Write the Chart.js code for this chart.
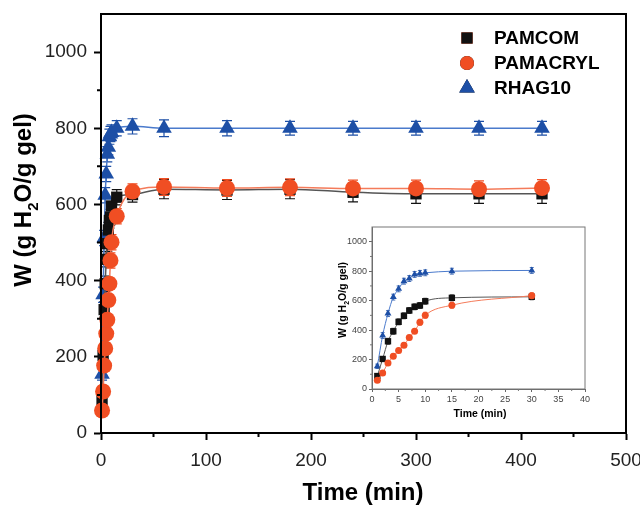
<!DOCTYPE html>
<html>
<head>
<meta charset="utf-8">
<script src="https://cdn.jsdelivr.net/npm/chart.js@4.4.1/dist/chart.umd.min.js"></script>
<style>
  html, body { margin: 0; padding: 0; background: #fff; }
  #wrap { position: relative; width: 640px; height: 506px; }
  #mainChart { position: absolute; left: 0; top: 0; }
  #insetChart { position: absolute; left: 300px; top: 210px; }
</style>
</head>
<body>
<div id="wrap">
  <canvas id="mainChart" width="640" height="506"></canvas>
  <canvas id="insetChart" width="320" height="220"></canvas>
</div>
<script>
// swelling time (min)
const times = [1, 2, 3, 4, 5, 6, 7, 8, 9, 10, 15, 30, 60, 120, 180, 240, 300, 360, 420];
const insetCount = 12; // inset shows the first 30 min

const seriesNames = ["PAMCOM", "PAMACRYL", "RHAG10"];
const pamcomW   = [88, 204, 324, 392, 456, 497, 533, 558, 567, 596, 619, 626, 640, 638, 640, 632, 628, 628, 628];
const pamacrylW = [59, 109, 177, 222, 261, 297, 349, 392, 453, 501, 569, 634, 646, 643, 645, 642, 642, 640, 643];
const rhagW     = [154, 363, 512, 624, 680, 732, 750, 778, 785, 789, 800, 805, 800, 800, 800, 800, 800, 800, 800];
const pamcomErr   = [10, 15, 20, 20, 20, 20, 20, 20, 20, 20, 20, 20, 25, 25, 25, 25, 25, 25, 25];
const pamacrylErr = [10, 15, 15, 15, 15, 15, 15, 15, 20, 20, 20, 20, 22, 22, 22, 22, 22, 22, 22];
const rhagErr     = [15, 20, 20, 20, 20, 20, 20, 20, 20, 20, 20, 20, 22, 20, 18, 18, 18, 18, 18];

const yTicks = [0, 200, 400, 600, 800, 1000];
const mainXTicks = [0, 100, 200, 300, 400, 500];
const insetXTicks = [0, 5, 10, 15, 20, 25, 30, 35, 40];

const FONT = "'Liberation Sans', Arial, Helvetica, sans-serif";
const styles = [
  { marker: "#111111", line: "#555555", shape: "rect", big: 8, small: 4.5 },
  { marker: "#f04e23", line: "#f47b5a", shape: "circle", big: 8, small: 3.5 },
  { marker: "#1d4fa6", line: "#4a7acc", shape: "triangle", big: 9, small: 4 }
];
const values = [pamcomW, pamacrylW, rhagW];
const errs = [pamcomErr, pamacrylErr, rhagErr];

function makeSets(n, isBig) {
  return seriesNames.map((name, i) => ({
    label: name,
    data: times.slice(0, n).map((t, j) => ({ x: t, y: values[i][j] })),
    errors: errs[i].slice(0, n),
    errColor: styles[i].marker,
    showLine: true,
    cubicInterpolationMode: "monotone",
    borderColor: styles[i].line,
    borderWidth: isBig ? 1.5 : 1,
    backgroundColor: styles[i].marker,
    pointBackgroundColor: styles[i].marker,
    pointBorderColor: styles[i].marker,
    pointBorderWidth: 0,
    pointStyle: styles[i].shape,
    pointRadius: isBig ? styles[i].big : styles[i].small,
    clip: false,
    order: [1, 0, 2][i]
  }));
}

// vertical error bars with caps, under the markers
const errorBars = {
  id: "errorBars",
  beforeDatasetsDraw(chart, args, opts) {
    const ctx = chart.ctx;
    const ys = chart.scales.y;
    chart.data.datasets.forEach((ds, i) => {
      const meta = chart.getDatasetMeta(i);
      ctx.save();
      ctx.strokeStyle = ds.errColor;
      ctx.lineWidth = opts.width;
      meta.data.forEach((pt, j) => {
        const v = ds.data[j].y, e = ds.errors[j];
        const y1 = ys.getPixelForValue(v - e);
        const y2 = ys.getPixelForValue(v + e);
        ctx.beginPath();
        ctx.moveTo(pt.x, y1); ctx.lineTo(pt.x, y2);
        ctx.moveTo(pt.x - opts.cap, y1); ctx.lineTo(pt.x + opts.cap, y1);
        ctx.moveTo(pt.x - opts.cap, y2); ctx.lineTo(pt.x + opts.cap, y2);
        ctx.stroke();
      });
      ctx.restore();
    });
  }
};

// box around plot + minor ticks
const frame = {
  id: "frame",
  afterDraw(chart, args, opts) {
    const ctx = chart.ctx, a = chart.chartArea;
    const xs = chart.scales.x, ys = chart.scales.y;
    ctx.save();
    ctx.strokeStyle = opts.color;
    ctx.lineWidth = opts.width;
    ctx.strokeRect(a.left, a.top, a.right - a.left, a.bottom - a.top);
    ctx.lineWidth = opts.tickWidth;
    ctx.beginPath();
    opts.xMinor.forEach(v => {
      const x = xs.getPixelForValue(v);
      ctx.moveTo(x, a.bottom); ctx.lineTo(x, a.bottom + opts.minorLen);
    });
    opts.yMinor.forEach(v => {
      const y = ys.getPixelForValue(v);
      ctx.moveTo(a.left, y); ctx.lineTo(a.left - opts.minorLen, y);
    });
    ctx.stroke();
    ctx.restore();
  }
};

// axis titles with a real subscript 2
function drawParts(ctx, parts, size, subSize) {
  let w = 0;
  parts.forEach(p => {
    ctx.font = "bold " + (p[1] ? subSize : size) + "px " + FONT;
    w += ctx.measureText(p[0]).width;
  });
  let x = -w / 2;
  parts.forEach(p => {
    ctx.font = "bold " + (p[1] ? subSize : size) + "px " + FONT;
    ctx.fillText(p[0], x, p[1] ? size * 0.28 : 0);
    x += ctx.measureText(p[0]).width;
  });
}
const axisTitles = {
  id: "axisTitles",
  afterDraw(chart, args, opts) {
    const ctx = chart.ctx;
    ctx.save();
    ctx.fillStyle = "#000";
    ctx.textBaseline = "alphabetic";
    ctx.textAlign = "left";
    ctx.translate(opts.xPos[0], opts.xPos[1]);
    drawParts(ctx, [["Time (min)", 0]], opts.size, opts.subSize);
    ctx.restore();
    ctx.save();
    ctx.fillStyle = "#000";
    ctx.textBaseline = "alphabetic";
    ctx.textAlign = "left";
    ctx.translate(opts.yPos[0], opts.yPos[1]);
    ctx.rotate(-Math.PI / 2);
    drawParts(ctx, [["W (g H", 0], ["2", 1], ["O/g gel)", 0]], opts.size, opts.subSize);
    ctx.restore();
  }
};

const markLegend = {
  id: "markLegend",
  afterDraw(chart, args, opts) {
    const ctx = chart.ctx;
    ctx.save();
    chart.data.datasets.forEach((ds, i) => {
      const y = opts.top + i * opts.gap;
      Chart.helpers.drawPoint(ctx, {
        pointStyle: ds.pointStyle, radius: opts.radius[i], rotation: 0, borderWidth: 0
      }, opts.markX, y);
      ctx.fillStyle = ds.pointBackgroundColor;
      ctx.fill();
      ctx.fillStyle = "#000";
      ctx.font = "bold " + opts.size + "px " + FONT;
      ctx.textBaseline = "middle";
      ctx.textAlign = "left";
      ctx.fillText(ds.label, opts.textX, y + 1);
    });
    ctx.restore();
  }
};

function scaleOpts(cfg) {
  return {
    type: "linear",
    min: cfg.min,
    max: cfg.max,
    afterBuildTicks: s => { s.ticks = cfg.ticks.map(v => ({ value: v })); },
    afterFit: s => {
      if (cfg.w) s.width = cfg.w;
      if (cfg.h) s.height = cfg.h;
      // keep the plot box where the layout padding puts it
      s.paddingLeft = 0; s.paddingRight = 0; s.paddingTop = 0; s.paddingBottom = 0;
    },
    grid: {
      display: true, drawOnChartArea: false, drawTicks: true,
      tickLength: cfg.tickLen, tickColor: cfg.axisColor, tickWidth: cfg.tickWidth
    },
    border: { display: true, color: cfg.axisColor, width: cfg.axisWidth },
    ticks: {
      color: cfg.labelColor, padding: cfg.pad, maxRotation: 0,
      font: { family: FONT, size: cfg.fontSize },
      callback: v => String(v)
    }
  };
}

new Chart(document.getElementById("mainChart"), {
  type: "scatter",
  data: { datasets: makeSets(times.length, true) },
  plugins: [errorBars, frame, axisTitles, markLegend],
  options: {
    responsive: false,
    animation: false,
    layout: { padding: { left: 0, top: 14, right: 14, bottom: 0 } },
    scales: {
      x: scaleOpts({ min: 0, max: 500, ticks: mainXTicks, h: 73, tickLen: 7, tickWidth: 2,
        axisColor: "#000", axisWidth: 2, labelColor: "#222", pad: 9, fontSize: 19 }),
      y: scaleOpts({ min: 0, max: 1100, ticks: yTicks, w: 101, tickLen: 7, tickWidth: 2,
        axisColor: "#000", axisWidth: 2, labelColor: "#222", pad: 7, fontSize: 19 })
    },
    plugins: {
      legend: { display: false },
      tooltip: { enabled: false },
      errorBars: { cap: 5, width: 1.2 },
      frame: { color: "#000", width: 2, tickWidth: 2, minorLen: 4,
        xMinor: [50, 150, 250, 350, 450], yMinor: [100, 300, 500, 700, 900] },
      axisTitles: { size: 24, subSize: 15, xPos: [363, 500], yPos: [31, 200] },
      markLegend: { top: 38, gap: 25, markX: 467, textX: 494, size: 19, radius: [8, 7, 9] }
    }
  }
});

new Chart(document.getElementById("insetChart"), {
  type: "scatter",
  data: { datasets: makeSets(insetCount, false) },
  plugins: [errorBars, frame, axisTitles],
  options: {
    responsive: false,
    animation: false,
    layout: { padding: { left: 0, top: 17, right: 35, bottom: 0 } },
    scales: {
      x: scaleOpts({ min: 0, max: 40, ticks: insetXTicks, h: 41, tickLen: 3, tickWidth: 1,
        axisColor: "#666", axisWidth: 1, labelColor: "#444", pad: 2, fontSize: 9 }),
      y: scaleOpts({ min: 0, max: 1100, ticks: yTicks, w: 72, tickLen: 3, tickWidth: 1,
        axisColor: "#666", axisWidth: 1, labelColor: "#444", pad: 2, fontSize: 9 })
    },
    plugins: {
      legend: { display: false },
      tooltip: { enabled: false },
      errorBars: { cap: 2, width: 0.8 },
      frame: { color: "#777", width: 1, tickWidth: 1, minorLen: 2,
        xMinor: [2.5, 7.5, 12.5, 17.5, 22.5, 27.5, 32.5, 37.5], yMinor: [100, 300, 500, 700, 900] },
      axisTitles: { size: 10.5, subSize: 7, xPos: [180, 207], yPos: [46, 90] }
    }
  }
});
</script>
</body>
</html>
